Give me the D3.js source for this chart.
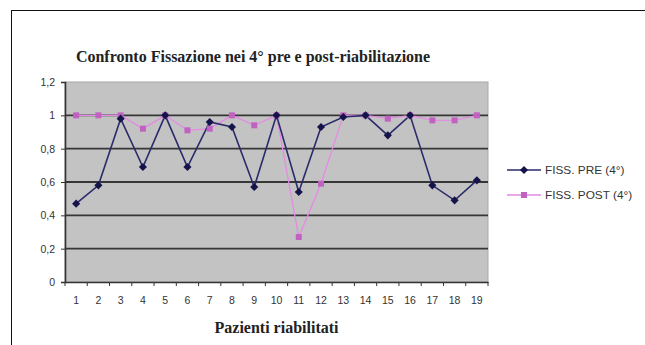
<!DOCTYPE html>
<html>
<head>
<meta charset="utf-8">
<script src="https://cdn.jsdelivr.net/npm/d3@7"></script>
<style>
  html, body { margin: 0; padding: 0; background: #fff; }
  svg { display: block; }
</style>
</head>
<body>
<svg id="chart" width="645" height="345"></svg>
<script>
// Patients (category axis)
const patients = ["1","2","3","4","5","6","7","8","9","10","11","12","13","14","15","16","17","18","19"];
// Fixation at 4° before rehabilitation
const fissPre  = [0.47, 0.58, 0.98, 0.69, 1.00, 0.69, 0.96, 0.93, 0.57, 1.00, 0.54, 0.93, 0.99, 1.00, 0.88, 1.00, 0.58, 0.49, 0.61];
// Fixation at 4° after rehabilitation
const fissPost = [1.00, 1.00, 1.00, 0.92, 1.00, 0.91, 0.92, 1.00, 0.94, 1.00, 0.27, 0.59, 1.00, 1.00, 0.98, 1.00, 0.97, 0.97, 1.00];
const yTicks = [0, 0.2, 0.4, 0.6, 0.8, 1, 1.2];
const seriesNames = ["FISS. PRE (4°)", "FISS. POST (4°)"];

const svg = d3.select("#chart");
const plot = { left: 65, right: 488, top: 82, bottom: 282 };

// outer frame
svg.append("rect")
  .attr("x", 11.5).attr("y", 10.5)
  .attr("width", 700).attr("height", 400)
  .attr("fill", "#fff").attr("stroke", "#111").attr("stroke-width", 1);

const x = d3.scaleBand().domain(patients).range([plot.left, plot.right]);
const y = d3.scaleLinear().domain([0, 1.2]).range([plot.bottom, plot.top]);

// plot background
svg.append("rect")
  .attr("x", plot.left).attr("y", plot.top)
  .attr("width", plot.right - plot.left).attr("height", plot.bottom - plot.top)
  .attr("fill", "#c3c3c3").attr("stroke", "#a8a8a8").attr("stroke-width", 1);

// horizontal gridlines
svg.append("g").selectAll("line")
  .data(yTicks.filter(t => t > 0 && t < 1.2))
  .join("line")
  .attr("x1", plot.left).attr("x2", plot.right)
  .attr("y1", d => y(d)).attr("y2", d => y(d))
  .attr("stroke", "#363636").attr("stroke-width", 1.8);

const fmt = d => d3.format(".1f")(d).replace(".", ",").replace(/,0$/, "");

// y axis
const yAxis = svg.append("g")
  .attr("transform", `translate(${plot.left},0)`)
  .call(d3.axisLeft(y).tickValues(yTicks).tickSize(4).tickPadding(6).tickFormat(fmt));
yAxis.select(".domain").attr("stroke", "#333").attr("stroke-width", 1.6);
yAxis.selectAll(".tick line").attr("stroke", "#333");
yAxis.selectAll("text")
  .attr("font-family", "Liberation Sans, Arial, sans-serif")
  .attr("font-size", 10.5).attr("fill", "#333");

// x axis (ticks between categories)
const xAxis = svg.append("g")
  .attr("transform", `translate(0,${plot.bottom})`)
  .call(d3.axisBottom(x).tickSize(0).tickPadding(15));
xAxis.select(".domain").attr("stroke", "#333").attr("stroke-width", 1.6);
xAxis.selectAll("text")
  .attr("font-family", "Liberation Sans, Arial, sans-serif")
  .attr("font-size", 10.5).attr("fill", "#333");
xAxis.append("g").selectAll("line")
  .data(patients.map(p => x(p)).concat([plot.right]))
  .join("line")
  .attr("x1", d => d).attr("x2", d => d)
  .attr("y1", 0).attr("y2", 4)
  .attr("stroke", "#333");

const cx = p => x(p) + x.bandwidth() / 2;
const line = vals => d3.line().x((d, i) => cx(patients[i])).y(d => y(d))(vals);

const preColor = "#2b2b6b", preMarker = "#14144a";
const postColor = "#e58ae5", postMarker = "#c062c0";

// POST series
svg.append("path").attr("d", line(fissPost))
  .attr("fill", "none").attr("stroke", postColor).attr("stroke-width", 1.3);
// PRE series
svg.append("path").attr("d", line(fissPre))
  .attr("fill", "none").attr("stroke", preColor).attr("stroke-width", 1.6);

const diamond = d3.symbol().type(d3.symbolDiamond2).size(42);
const square = d3.symbol().type(d3.symbolSquare).size(36);

svg.append("g").selectAll("path")
  .data(fissPost).join("path")
  .attr("d", square)
  .attr("transform", (d, i) => `translate(${cx(patients[i])},${y(d)})`)
  .attr("fill", postMarker);

svg.append("g").selectAll("path")
  .data(fissPre).join("path")
  .attr("d", diamond)
  .attr("transform", (d, i) => `translate(${cx(patients[i])},${y(d)})`)
  .attr("fill", preMarker);

// title
svg.append("text")
  .attr("x", 253).attr("y", 62)
  .attr("text-anchor", "middle")
  .attr("font-family", "Liberation Serif, Times New Roman, serif")
  .attr("font-weight", "bold").attr("font-size", 16).attr("fill", "#222")
  .text("Confronto Fissazione nei 4° pre e post-riabilitazione");

// x axis title
svg.append("text")
  .attr("x", (plot.left + plot.right) / 2).attr("y", 333)
  .attr("text-anchor", "middle")
  .attr("font-family", "Liberation Serif, Times New Roman, serif")
  .attr("font-weight", "bold").attr("font-size", 16).attr("fill", "#222")
  .text("Pazienti riabilitati");

// legend
const legend = svg.append("g");
const legendRows = [
  { name: seriesNames[0], color: preColor, marker: preMarker, sym: diamond, y: 170 },
  { name: seriesNames[1], color: postColor, marker: postMarker, sym: square, y: 195 }
];
legendRows.forEach(r => {
  legend.append("line")
    .attr("x1", 507).attr("x2", 541).attr("y1", r.y).attr("y2", r.y)
    .attr("stroke", r.color).attr("stroke-width", 1.4);
  legend.append("path").attr("d", r.sym)
    .attr("transform", `translate(524,${r.y})`).attr("fill", r.marker);
  legend.append("text")
    .attr("x", 545).attr("y", r.y + 4)
    .attr("font-family", "Liberation Sans, Arial, sans-serif")
    .attr("font-size", 11.8).attr("fill", "#333")
    .text(r.name);
});
</script>
</body>
</html>
